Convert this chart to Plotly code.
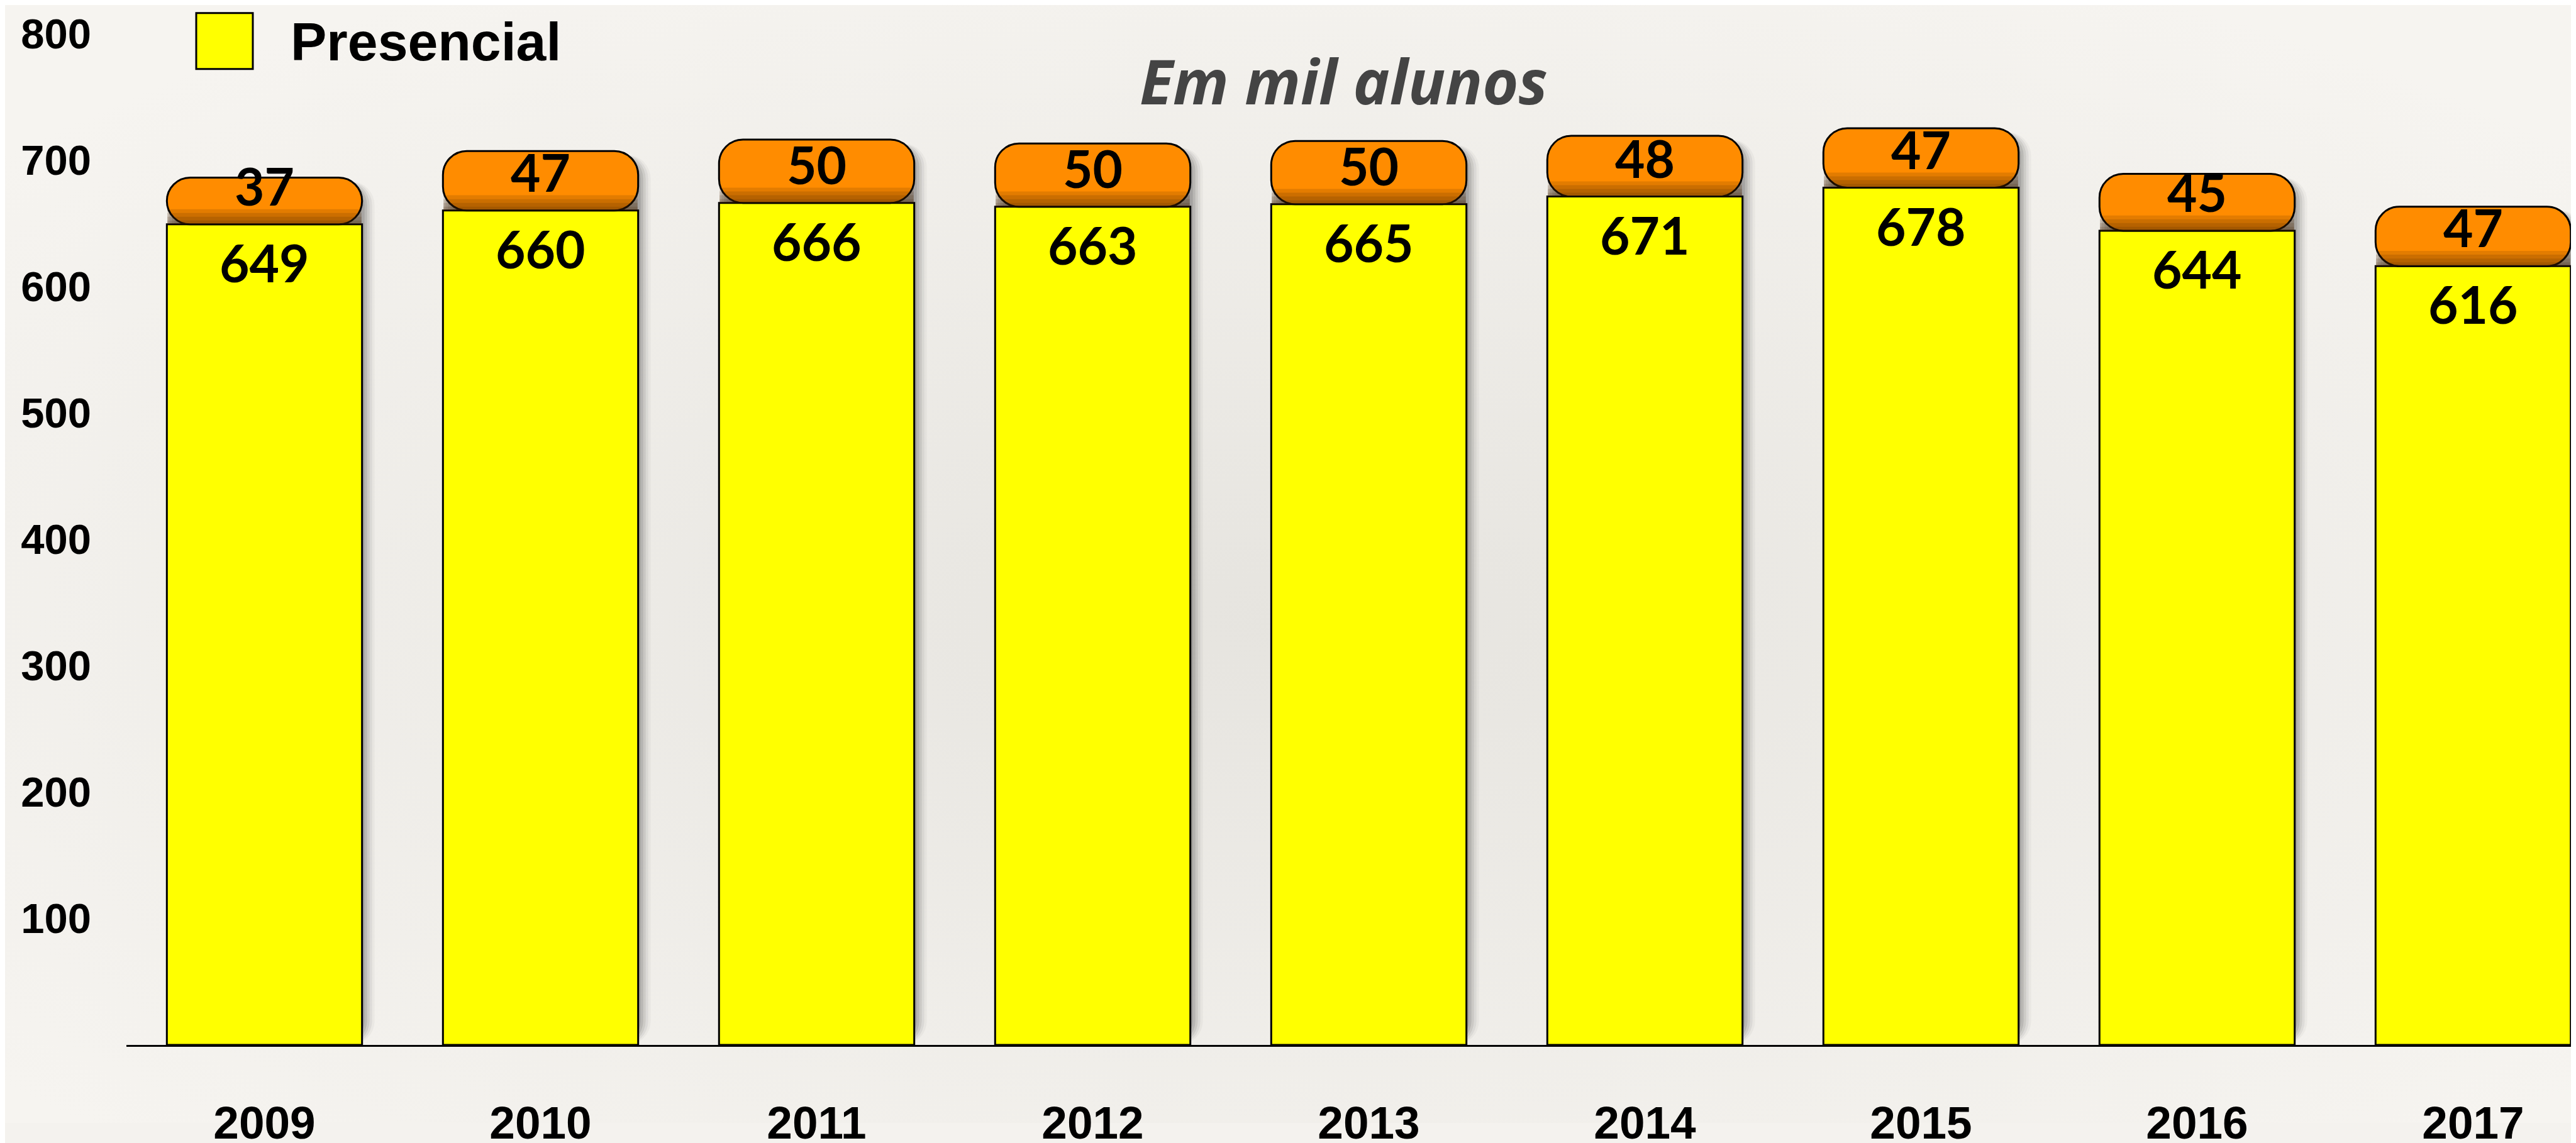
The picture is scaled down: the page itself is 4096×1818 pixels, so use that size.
import plotly.graph_objects as go

# ---------------- data ----------------
years = ["2009", "2010", "2011", "2012", "2013", "2014", "2015", "2016", "2017"]
presencial = [649, 660, 666, 663, 665, 671, 678, 644, 616]
ead = [37, 47, 50, 50, 50, 48, 47, 45, 47]
y_ticks = [100, 200, 300, 400, 500, 600, 700, 800]
title_text = "Em mil alunos"
legend_text = "Presencial"

# ---------------- geometry (output px) ----------------
W, H = 4096, 1818
L, B = 193, 127
PW, PH = W - L, H - B
PX_PER_UNIT = 2.056
PX_PER_CAT = 439.0
YMAX = PH / PX_PER_UNIT
XMAX = -0.5 + PW / PX_PER_CAT
BW = 0.707

def px_x(p):
    return (p - L) / PW

def px_y(p):
    return (PH - p) / PH

totals = [p + e for p, e in zip(presencial, ead)]

fig = go.Figure()

# soft drop shadow to the right of each bar
for dpx, a in [(4, 0.10), (8, 0.09), (12, 0.07), (16, 0.05), (20, 0.03)]:
    fig.add_trace(go.Bar(
        x=years, y=[t - 3 for t in totals], base=0,
        width=BW, offset=-BW / 2 + dpx / PX_PER_CAT,
        marker=dict(color=f"rgba(0,0,0,{a})", line=dict(width=0), cornerradius=38),
        showlegend=False, hoverinfo="skip",
    ))

# Presencial (yellow)
fig.add_trace(go.Bar(
    x=years, y=presencial, base=0, name="Presencial",
    width=BW, offset=-BW / 2,
    marker=dict(color="#FFFF00", line=dict(color="black", width=3)),
    showlegend=False,
))

# EAD (orange) on top, rounded top corners
fig.add_trace(go.Bar(
    x=years, y=ead, base=presencial, name="EAD",
    width=BW, offset=-BW / 2,
    marker=dict(color="#FF8C00", line=dict(color="black", width=3), cornerradius=38),
    showlegend=False,
))

# dark shading at bottom of orange segment
for h in [12, 9, 6, 3]:
    fig.add_trace(go.Bar(
        x=years, y=[h] * len(years), base=presencial,
        width=BW - 0.004, offset=-(BW - 0.004) / 2,
        marker=dict(color="rgba(70,35,0,0.15)", line=dict(width=0)),
        showlegend=False, hoverinfo="skip",
    ))

annotations = []
label_font = dict(family="Lato", size=82, color="black", weight="bold")
for i, (p, e) in enumerate(zip(presencial, ead)):
    annotations.append(dict(x=i, y=p, xref="x", yref="y", text=str(p), showarrow=False,
                            yanchor="middle", xanchor="center", yshift=-60, font=label_font))
    annotations.append(dict(x=i, y=p, xref="x", yref="y", text=str(e), showarrow=False,
                            yanchor="middle", xanchor="center", yshift=62, font=label_font))

# title
annotations.append(dict(x=px_x(2128), y=px_y(123), xref="paper", yref="paper", text=title_text,
                        showarrow=False, xanchor="center", yanchor="middle",
                        font=dict(family="Open Sans", size=98, color="#444444", style="italic", weight="bold")))
# legend text
annotations.append(dict(x=px_x(452), y=px_y(59), xref="paper", yref="paper", text=legend_text,
                        showarrow=False, xanchor="left", yanchor="middle",
                        font=dict(family="Liberation Sans", size=86, color="black", weight="bold")))

shapes = [dict(type="rect", xref="paper", yref="paper",
               x0=px_x(304), x1=px_x(394), y0=px_y(104), y1=px_y(13),
               fillcolor="#FFFF00", line=dict(color="black", width=3))]

bg_svg = ("data:image/svg+xml;utf8,"
          "<svg xmlns='http://www.w3.org/2000/svg' width='400' height='180' viewBox='0 0 400 180' preserveAspectRatio='none'>"
          "<defs><radialGradient id='g' cx='50%' cy='55%' r='65%'>"
          "<stop offset='0%' stop-color='%23E6E4DF'/><stop offset='100%' stop-color='%23F6F4F0'/>"
          "</radialGradient></defs><rect width='400' height='180' fill='url(%23g)'/></svg>")

fig.update_layout(
    width=W, height=H,
    margin=dict(l=L, r=0, t=0, b=B, pad=0),
    barmode="overlay",
    paper_bgcolor="#F4F2EE",
    plot_bgcolor="rgba(0,0,0,0)",
    showlegend=False,
    annotations=annotations,
    shapes=shapes,
    images=[dict(source=bg_svg, xref="paper", yref="paper",
                 x=-L / PW, y=1.0, sizex=W / PW, sizey=H / PH,
                 xanchor="left", yanchor="top", sizing="stretch", layer="below")],
    xaxis=dict(
        type="category", range=[-0.5, XMAX], showgrid=False, zeroline=False,
        showline=True, linecolor="black", linewidth=3,
        ticks="", ticklabelstandoff=58,
        tickfont=dict(family="Liberation Sans", size=73, color="black", weight="bold"),
        fixedrange=True,
    ),
    yaxis=dict(
        range=[0, YMAX], showgrid=False, zeroline=False, showline=False,
        tickmode="array", tickvals=y_ticks, ticktext=[str(v) for v in y_ticks],
        ticks="", ticklabelstandoff=55,
        tickfont=dict(family="Liberation Sans", size=67, color="black", weight="bold"),
        fixedrange=True,
    ),
)

fig.write_html("out.html")
